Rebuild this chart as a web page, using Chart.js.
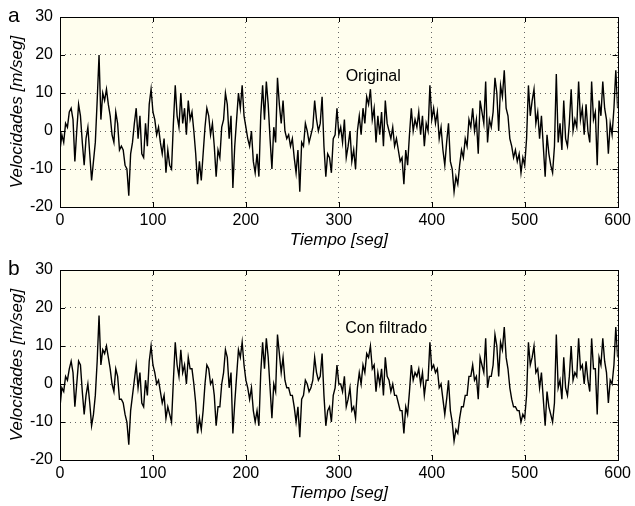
<!DOCTYPE html>
<html>
<head>
<meta charset="utf-8">
<script src="https://cdn.jsdelivr.net/npm/chart.js@4.4.1/dist/chart.umd.min.js"></script>
<style>
  body { margin: 0; background: #fff; }
  .panel { position: relative; width: 635px; height: 253px; }
</style>
</head>
<body>
<div class="panel"><canvas id="chartA" width="635" height="253"></canvas></div>
<div class="panel"><canvas id="chartB" width="635" height="253"></canvas></div>
<script>
// eje X: tiempo en segundos, una muestra cada 2 s
const pasoSeg = 2;
const xMin = 0, xMax = 600, xPaso = 100;
const yMin = -20, yMax = 30, yPaso = 10;

// velocidades (m/seg), t = 0..600
const velOriginal = [
  -5,-1,-3,2,1,5,6,3,-8,0, 7,4,-3,-9,-2,1,-6,-13,-8,-3, 8,20,3,10,8,11,7,4,-1,-3,
  5,2,-5,-4,-5,-9,-10,-17,-6,-3, 2,6,-2,4,-6,-7,2,-4,7,11, 5,
  3,-1,1,-3,-6,-2,-11,-5,-9,-10, 2,12,4,1,10,2,6,-1,8,3, 5,0,-6,-14,-8,-13,-6,1,6,4,
  -1,2,-4,-12,-5,-7,1,3,10,7, -2,4,-15,-4,3,10,6,12,4,1,
  -2,-4,0,-8,-11,-6,-12,4,12,3, 13,7,-2,-10,1,-3,14,7,2,8, 0,-2,-1,-4,-2,-7,-11,-5,-16,-3,
  -4,2,0,-3,-1,1,8,3,0,2, 9,-4,-12,-6,-7,-11,-2,-1,6,-1,
  1,-3,3,-7,-4,0,-8,-5,-10,0, 4,-1,6,2,9,7,11,3,6,-3, 4,-1,5,-4,8,2,0,-2,1,-4,
  -2,-5,-8,-7,-14,-5,-9,-1,6,0, 3,1,5,-1,4,-4,2,0,12,3,
  6,2,5,-2,1,-5,-9,-3,2,-8, -10,-16,-12,-14,-9,-5,-7,-2,-4,3, 1,6,0,3,-6,8,5,2,13,-3,
  3,1,5,14,10,0,12,9,16,6, 4,-2,-4,-7,-5,-8,-6,-11,-7,-9,
  -2,12,4,8,11,2,5,-2,4,-4, -12,-1,-6,-9,-11,-4,15,-3,2,-5, 8,-2,-4,2,11,0,3,1,13,3,
  6,-1,7,0,-3,13,3,5,-9,8, 4,13,6,3,-6,2,-1,6,16,6
];

const velFiltrado = [
  -6,-1,-2,2,1,4,6,3,-6,0, 6,5,-2,-8,-3,0,-5,-11,-8,-3, 6,18,5,9,8,10,7,4,0,-2,
  4,2,-4,-4,-5,-8,-10,-16,-7,-3, 1,5,-1,3,-5,-6,1,-3,6,10, 5,
  3,0,1,-2,-5,-3,-9,-6,-8,-10, 1,11,5,2,9,3,5,0,7,4, 4,0,-5,-13,-9,-12,-7,0,5,4,
  0,1,-3,-11,-6,-6,0,3,9,7, -1,3,-13,-5,2,9,7,11,5,1,
  -1,-4,-1,-7,-10,-7,-11,3,11,4, 12,7,-1,-9,0,-2,13,8,3,7, 1,-1,-1,-3,-3,-6,-10,-6,-14,-4,
  -3,1,0,-2,-1,1,7,3,1,2, 8,-3,-11,-7,-6,-10,-3,-1,5,0,
  0,-2,2,-6,-4,-1,-7,-6,-9,-1, 3,0,5,3,8,7,10,4,5,-2, 3,0,4,-3,7,2,1,-2,0,-3,
  -3,-5,-7,-7,-13,-6,-8,-2,5,1, 3,2,4,0,3,-3,1,1,11,4,
  5,3,4,-1,0,-4,-8,-4,1,-7, -10,-15,-12,-13,-9,-6,-6,-3,-3,2, 2,5,1,2,-4,7,5,3,12,-1,
  2,2,5,13,10,2,11,9,15,7, 4,-1,-4,-6,-6,-7,-7,-10,-8,-9,
  -3,11,5,7,10,3,4,-1,3,-4, -11,-2,-6,-8,-10,-5,13,-1,1,-4, 7,-1,-3,2,10,1,3,2,12,4,
  5,0,6,1,-2,12,4,4,-8,7, 5,12,6,3,-5,1,0,5,15,7
];

const fuente = '"Liberation Sans", Arial, Helvetica, sans-serif';

// fondo crema, marco negro, marcas hacia dentro, letra del panel y rotulo
const panelDeco = {
  id: 'panelDeco',
  beforeDraw(chart) {
    const { ctx, chartArea: a } = chart;
    ctx.save();
    ctx.fillStyle = '#fffeee';
    ctx.fillRect(a.left, a.top, a.right - a.left, a.bottom - a.top);
    ctx.restore();
  },
  afterDraw(chart, args, opts) {
    const { ctx, chartArea: a, scales } = chart;
    ctx.save();
    ctx.strokeStyle = '#000';
    ctx.lineWidth = 1;
    ctx.beginPath();
    scales.x.ticks.forEach(t => {
      const px = Math.round(scales.x.getPixelForValue(t.value)) + 0.5;
      ctx.moveTo(px, a.bottom); ctx.lineTo(px, a.bottom - 5);
      ctx.moveTo(px, a.top); ctx.lineTo(px, a.top + 5);
    });
    scales.y.ticks.forEach(t => {
      const py = Math.round(scales.y.getPixelForValue(t.value)) + 0.5;
      ctx.moveTo(a.left, py); ctx.lineTo(a.left + 5, py);
      ctx.moveTo(a.right, py); ctx.lineTo(a.right - 5, py);
    });
    ctx.stroke();
    ctx.strokeRect(Math.round(a.left) + 0.5, Math.round(a.top) + 0.5,
      Math.round(a.right - a.left), Math.round(a.bottom - a.top));

    ctx.fillStyle = '#000';
    ctx.font = '21px ' + fuente;
    ctx.textAlign = 'left';
    ctx.textBaseline = 'alphabetic';
    ctx.fillText(opts.letra, 8, 22);

    ctx.font = '16px ' + fuente;
    ctx.textAlign = 'center';
    ctx.textBaseline = 'middle';
    ctx.fillText(opts.rotulo, scales.x.getPixelForValue(opts.rotuloX), scales.y.getPixelForValue(opts.rotuloY));
    ctx.restore();
  }
};

function crearPanel(canvasId, valores, letra, rotulo, rotuloX, rotuloY) {
  const puntos = valores.map((v, i) => ({ x: i * pasoSeg, y: v }));
  return new Chart(document.getElementById(canvasId), {
    type: 'line',
    data: {
      datasets: [{
        data: puntos,
        borderColor: '#000',
        borderWidth: 1.4,
        pointRadius: 0,
        tension: 0,
        fill: false
      }]
    },
    options: {
      responsive: false,
      animation: false,
      events: [],
      layout: { padding: { top: 17, right: 14, left: 0, bottom: 0 } },
      plugins: {
        legend: { display: false },
        tooltip: { enabled: false },
        panelDeco: { letra, rotulo, rotuloX, rotuloY }
      },
      scales: {
        x: {
          type: 'linear',
          min: xMin, max: xMax,
          afterFit: s => { s.height = 46; },
          ticks: { stepSize: xPaso, color: '#000', padding: 4, maxRotation: 0, font: { family: fuente, size: 16 } },
          grid: { color: '#666', drawTicks: false },
          border: { display: false, dash: [1, 4] },
          title: {
            display: true, text: 'Tiempo [seg]', color: '#000',
            padding: { top: 0, bottom: 3 },
            font: { family: fuente, size: 17, style: 'italic' }
          }
        },
        y: {
          min: yMin, max: yMax,
          afterFit: s => { s.width = 60; },
          ticks: { stepSize: yPaso, color: '#000', padding: 7, font: { family: fuente, size: 16 } },
          grid: { color: '#666', drawTicks: false },
          border: { display: false, dash: [1, 4] },
          title: {
            display: true, text: 'Velocidades [m/seg]', color: '#000',
            padding: { top: 7, bottom: 0 },
            font: { family: fuente, size: 17, style: 'italic' }
          }
        }
      }
    },
    plugins: [panelDeco]
  });
}

crearPanel('chartA', velOriginal, 'a', 'Original', 337, 14.4);
crearPanel('chartB', velFiltrado, 'b', 'Con filtrado', 351, 14.7);
</script>
</body>
</html>
